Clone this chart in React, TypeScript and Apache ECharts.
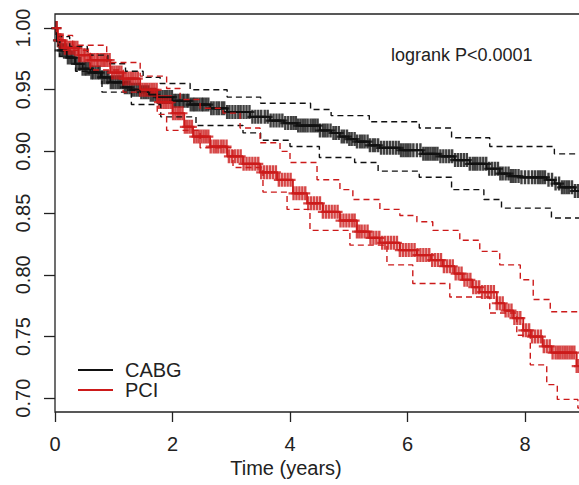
import React, { useEffect, useRef } from 'react';
import * as echarts from 'echarts';

// ---- tick values ----
const xTicks = [0, 2, 4, 6, 8];
const yTicks = [0.7, 0.75, 0.8, 0.85, 0.9, 0.95, 1.0];

// ---- Kaplan-Meier estimates [time (years), survival] ----
const cabgCurve: [number, number][] = [
  [0, 1], [0.03, 0.99], [0.08, 0.982], [0.2, 0.976], [0.34, 0.971], [0.47, 0.967], [0.6, 0.964],
  [0.78, 0.96], [0.94, 0.956], [1.16, 0.952], [1.3, 0.95], [1.45, 0.948], [1.6, 0.946], [1.74, 0.944],
  [2.0, 0.941], [2.3, 0.938], [2.64, 0.935], [2.93, 0.932], [3.32, 0.928], [3.66, 0.925], [3.9, 0.923],
  [4.12, 0.921], [4.51, 0.917], [4.7, 0.915], [4.85, 0.912], [5.0, 0.91], [5.14, 0.908], [5.35, 0.905],
  [5.53, 0.903], [5.87, 0.901], [6.26, 0.898], [6.55, 0.896], [6.8, 0.893], [7.06, 0.89], [7.35, 0.886],
  [7.57, 0.882], [7.75, 0.88], [7.91, 0.879], [8.37, 0.877], [8.5, 0.874], [8.6, 0.871], [8.85, 0.868], [9.5, 0.868],
];
const cabgUpper: [number, number][] = [
  [0, 1], [0.04, 0.993], [0.25, 0.985], [0.55, 0.978], [0.9, 0.971], [1.2, 0.965], [1.5, 0.96], [1.79, 0.955],
  [2.3, 0.95], [2.93, 0.944], [3.5, 0.939], [4.35, 0.934], [4.7, 0.929], [5.35, 0.924], [6.2, 0.919],
  [6.75, 0.911], [7.4, 0.904], [8.5, 0.898], [9.5, 0.897],
];
const cabgLower: [number, number][] = [
  [0, 1], [0.03, 0.986], [0.08, 0.977], [0.35, 0.965], [0.8, 0.948], [1.3, 0.938], [1.8, 0.928],
  [2.4, 0.921], [3.2, 0.915], [3.5, 0.909], [4.0, 0.904], [4.5, 0.895], [5.1, 0.891], [5.5, 0.884],
  [6.2, 0.879], [6.75, 0.869], [7.3, 0.861], [7.6, 0.854], [8.45, 0.846], [9.5, 0.844],
];

const pciCurve: [number, number][] = [
  [0, 1], [0.05, 0.99], [0.17, 0.984], [0.4, 0.978], [0.6, 0.974], [0.94, 0.964], [1.16, 0.959],
  [1.45, 0.95], [1.74, 0.94], [2.0, 0.931], [2.2, 0.92], [2.35, 0.912], [2.64, 0.904], [2.93, 0.896],
  [3.2, 0.89], [3.49, 0.883], [3.78, 0.877], [4.05, 0.866], [4.29, 0.858], [4.56, 0.851], [4.85, 0.844],
  [5.14, 0.835], [5.35, 0.83], [5.53, 0.826], [5.87, 0.82], [6.16, 0.816], [6.4, 0.812], [6.6, 0.807],
  [6.8, 0.801], [6.94, 0.796], [7.1, 0.79], [7.23, 0.786], [7.52, 0.777], [7.65, 0.771], [7.8, 0.765],
  [7.97, 0.755], [8.1, 0.75], [8.3, 0.742], [8.45, 0.737], [8.88, 0.726], [9.5, 0.726],
];
const pciUpper: [number, number][] = [
  [0, 1], [0.03, 0.994], [0.3, 0.986], [0.88, 0.972], [1.45, 0.961], [1.9, 0.951], [2.13, 0.942],
  [2.47, 0.935], [2.86, 0.931], [3.15, 0.919], [3.49, 0.907], [3.83, 0.9], [4.0, 0.891], [4.46, 0.877],
  [4.85, 0.869], [5.07, 0.861], [5.53, 0.853], [5.87, 0.848], [6.16, 0.843], [6.43, 0.836], [6.89, 0.828],
  [7.23, 0.819], [7.57, 0.808], [7.92, 0.796], [8.14, 0.78], [8.43, 0.77], [8.95, 0.765], [9.5, 0.765],
];
const pciLower: [number, number][] = [
  [0, 1], [0.085, 0.982], [0.6, 0.966], [1.16, 0.948], [1.74, 0.93], [1.9, 0.917], [2.47, 0.903],
  [3.03, 0.887], [3.54, 0.867], [3.95, 0.853], [4.34, 0.836], [5.02, 0.824], [5.65, 0.808], [6.09, 0.793],
  [6.72, 0.782], [7.4, 0.769], [7.86, 0.751], [8.09, 0.727], [8.37, 0.711], [8.55, 0.699], [8.9, 0.692], [9.5, 0.692],
];

// ---- censoring times (years) ----
const cabgCensor = [
  0.02, 0.05, 0.08, 0.12, 0.15, 0.19, 0.22, 0.26, 0.29, 0.33, 0.36, 0.4, 0.43, 0.47, 0.51, 0.54, 0.58,
  0.62, 0.65, 0.69, 0.73, 0.76, 0.8, 0.84, 0.88, 0.91, 0.95, 0.99, 1.03, 1.07, 1.11, 1.15, 1.19, 1.23,
  1.27, 1.31, 1.35, 1.39, 1.43, 1.47, 1.51, 1.55, 1.59, 1.63, 1.67, 1.71, 1.75, 1.79, 1.83, 1.87, 1.91,
  1.95, 1.99, 2.03, 2.06, 2.1, 2.13, 2.17, 2.2, 2.24, 2.27, 2.31, 2.35, 2.38, 2.42, 2.46, 2.5, 2.53,
  2.57, 2.61, 2.66, 2.7, 2.75, 2.79, 2.84, 2.88, 2.93, 2.97, 3.02, 3.07, 3.12, 3.16, 3.21, 3.26, 3.31,
  3.36, 3.41, 3.46, 3.51, 3.57, 3.62, 3.67, 3.72, 3.77, 3.82, 3.87, 3.92, 3.97, 4.02, 4.06, 4.1, 4.14,
  4.18, 4.22, 4.26, 4.3, 4.35, 4.39, 4.43, 4.47, 4.51, 4.56, 4.6, 4.64, 4.69, 4.74, 4.78, 4.83, 4.88,
  4.92, 4.97, 5.01, 5.05, 5.1, 5.14, 5.19, 5.23, 5.27, 5.32, 5.36, 5.41, 5.45, 5.5, 5.55, 5.6, 5.65,
  5.7, 5.75, 5.8, 5.85, 5.89, 5.93, 5.97, 6.01, 6.05, 6.1, 6.16, 6.22, 6.27, 6.31, 6.35, 6.39, 6.43,
  6.47, 6.51, 6.56, 6.61, 6.66, 6.71, 6.76, 6.81, 6.86, 6.91, 6.96, 7.01, 7.06, 7.11, 7.15, 7.19, 7.24,
  7.29, 7.34, 7.39, 7.44, 7.49, 7.54, 7.58, 7.62, 7.67, 7.72, 7.76, 7.8, 7.84, 7.89, 7.94, 8.0, 8.06,
  8.12, 8.17, 8.22, 8.26, 8.3, 8.34, 8.4, 8.46, 8.52, 8.58, 8.63, 8.67, 8.71, 8.75, 8.8, 8.85, 8.9, 8.95,
];
const pciCensor = [
  0.03, 0.06, 0.1, 0.13, 0.17, 0.2, 0.24, 0.27, 0.31, 0.34, 0.38, 0.41, 0.45, 0.49, 0.52, 0.56, 0.6,
  0.63, 0.67, 0.71, 0.74, 0.78, 0.82, 0.85, 0.89, 0.93, 0.97, 1.01, 1.05, 1.09, 1.13, 1.17, 1.21, 1.25,
  1.29, 1.33, 1.37, 1.41, 1.45, 1.49, 1.53, 1.57, 1.61, 1.65, 1.69, 1.73, 1.77, 1.81, 1.85, 1.89, 1.93,
  1.97, 2.01, 2.05, 2.09, 2.13, 2.17, 2.21, 2.25, 2.29, 2.33, 2.37, 2.41, 2.45, 2.49, 2.53, 2.57, 2.61,
  2.65, 2.7, 2.74, 2.78, 2.83, 2.87, 2.92, 2.96, 3.01, 3.06, 3.11, 3.16, 3.21, 3.26, 3.31, 3.36, 3.41,
  3.46, 3.51, 3.56, 3.61, 3.66, 3.71, 3.76, 3.81, 3.86, 3.91, 3.96, 4.01, 4.06, 4.11, 4.16, 4.21, 4.26,
  4.31, 4.36, 4.41, 4.46, 4.51, 4.56, 4.61, 4.66, 4.71, 4.76, 4.81, 4.86, 4.91, 4.96, 5.01, 5.06, 5.1,
  5.14, 5.18, 5.22, 5.27, 5.32, 5.37, 5.42, 5.47, 5.52, 5.57, 5.62, 5.67, 5.72, 5.77, 5.82, 5.87, 5.92,
  5.97, 6.02, 6.07, 6.12, 6.17, 6.22, 6.27, 6.32, 6.37, 6.42, 6.47, 6.52, 6.57, 6.62, 6.67, 6.72, 6.77,
  6.82, 6.87, 6.92, 6.97, 7.02, 7.07, 7.12, 7.17, 7.22, 7.27, 7.32, 7.37, 7.42, 7.47, 7.52, 7.57, 7.62,
  7.67, 7.72, 7.77, 7.82, 7.87, 7.92, 7.97, 8.02, 8.07, 8.12, 8.17, 8.22, 8.27, 8.32, 8.37, 8.42, 8.47,
  8.52, 8.56, 8.6, 8.64, 8.68, 8.72, 8.76, 8.8, 8.84, 8.88, 8.92,
];

const BLACK = '#111111';
const RED = '#cc1a1a';
const FONT = "'Liberation Sans', Arial, Helvetica, sans-serif";
const TXT = '#222222';

function survAt(curve: [number, number][], t: number): number {
  let s = curve[0][1];
  for (const [ti, si] of curve) {
    if (ti <= t) s = si;
    else break;
  }
  return s;
}

// plus sign with thick strokes
const PLUS = 'path://M3.8,0h2.4v14h-2.4z M0,6h10v2.2h-10z';

export default function App() {
  const ref = useRef<HTMLDivElement>(null);
  useEffect(() => {
    if (!ref.current) return;
    const chart = echarts.init(ref.current, undefined, { renderer: 'svg' });
    const ciLine = (name: string, data: [number, number][], color: string) => ({
      name,
      type: 'line',
      step: 'end',
      data,
      showSymbol: false,
      symbol: 'none',
      lineStyle: { color, width: 1.4, type: [6, 4] },
      silent: true,
    });
    const kmLine = (name: string, data: [number, number][], color: string) => ({
      name,
      type: 'line',
      step: 'end',
      data,
      showSymbol: false,
      symbol: 'none',
      color,
      lineStyle: { color, width: 1.8 },
    });
    const marks = (name: string, times: number[], curve: [number, number][], color: string) => ({
      name,
      type: 'scatter',
      data: times.map((t) => [t, survAt(curve, t)]),
      symbol: PLUS,
      symbolSize: [10, 14],
      itemStyle: { color },
      silent: true,
    });
    chart.setOption({
      animation: false,
      backgroundColor: '#ffffff',
      grid: {
        left: 55,
        top: 14,
        width: 587.5,
        height: 398,
        outerBoundsMode: 'none',
        containLabel: false,
        show: true,
        borderColor: '#222',
        borderWidth: 1.3,
        backgroundColor: 'transparent',
      },
      xAxis: {
        type: 'value',
        min: 0,
        max: 10,
        interval: 2,
        axisLine: { show: false },
        axisTick: { show: true, length: 10, lineStyle: { color: '#222', width: 1.3 }, customValues: xTicks },
        axisLabel: {
          fontSize: 20,
          fontFamily: FONT,
          color: TXT,
          margin: 22,
          customValues: xTicks,
          formatter: (v: number) => String(v),
        },
        splitLine: { show: false },
      },
      yAxis: {
        type: 'value',
        min: 0.6888,
        max: 1.01135,
        axisLine: { show: false },
        axisTick: { show: true, length: 11, lineStyle: { color: '#222', width: 1.3 }, customValues: yTicks },
        axisLabel: {
          fontSize: 20,
          fontFamily: FONT,
          color: TXT,
          rotate: 90,
          margin: 22,
          customValues: yTicks,
          formatter: (v: number) => v.toFixed(2),
        },
        splitLine: { show: false },
      },
      legend: {
        data: ['CABG', 'PCI'],
        orient: 'vertical',
        left: 73,
        top: 355,
        itemWidth: 35,
        itemHeight: 2,
        itemGap: 0,
        icon: 'rect',
        textStyle: { fontSize: 20, fontFamily: FONT, color: TXT, padding: [0, 0, 0, 7] },
        selectedMode: false,
      },
      graphic: [
        {
          type: 'text',
          left: 391,
          top: 46,
          style: { text: 'logrank P<0.0001', fontSize: 18, fontFamily: FONT, fill: TXT },
        },
        {
          type: 'text',
          x: 286,
          y: 468,
          style: {
            text: 'Time (years)',
            fontSize: 20,
            fontFamily: FONT,
            fill: TXT,
            align: 'center',
            verticalAlign: 'middle',
          },
        },
      ],
      series: [
        ciLine('CABG upper', cabgUpper, BLACK),
        ciLine('CABG lower', cabgLower, BLACK),
        kmLine('CABG', cabgCurve, BLACK),
        marks('CABG censored', cabgCensor, cabgCurve, BLACK),
        kmLine('PCI', pciCurve, RED),
        marks('PCI censored', pciCensor, pciCurve, RED),
        ciLine('PCI upper', pciUpper, RED),
        ciLine('PCI lower', pciLower, RED),
      ],
    });
    return () => chart.dispose();
  }, []);
  return (
    <div
      ref={ref}
      style={{ position: 'absolute', left: 0, top: 0, width: 579, height: 485, overflow: 'hidden', background: '#fff' }}
    />
  );
}
